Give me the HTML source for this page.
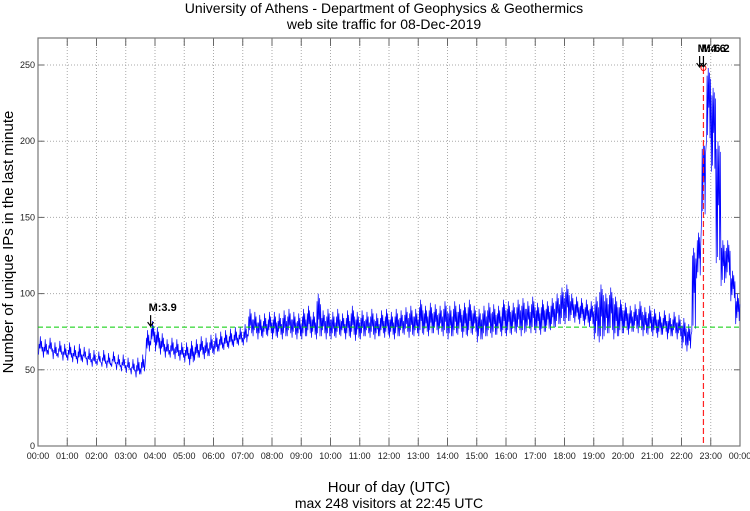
<!DOCTYPE html>
<html><head><meta charset="utf-8"><style>
body{margin:0;background:#fff;width:750px;height:511px;overflow:hidden}
svg{display:block;font-family:"Liberation Sans",sans-serif}
</style></head><body>
<svg id="chart" width="750" height="511">
<text x="384" y="13" font-size="14" text-anchor="middle">University of Athens - Department of Geophysics &amp; Geothermics</text>
<text x="384" y="29" font-size="14" text-anchor="middle">web site traffic for 08-Dec-2019</text>
<text x="389" y="492" font-size="15" text-anchor="middle">Hour of day (UTC)</text>
<text x="389" y="508" font-size="14" text-anchor="middle">max 248 visitors at 22:45 UTC</text>
<text transform="translate(13,242) rotate(-90)" font-size="15" text-anchor="middle">Number of unique IPs in the last minute</text>
<g id="grid"></g><g id="series"></g><g id="ann"></g>
</svg>
<script>
const hourLabels=["00:00","01:00","02:00","03:00","04:00","05:00","06:00","07:00","08:00","09:00","10:00","11:00","12:00","13:00","14:00","15:00","16:00","17:00","18:00","19:00","20:00","21:00","22:00","23:00","00:00"];
const yTicks=[0,50,100,150,200,250];
const binLow=[60,58,60,57,58,56, 56,55,54,55,53,52, 53,52,51,52,50,49, 48,47,45,47,60,66, 62,60,58,58,57,56, 55,53,56,58,57,59, 60,62,63,64,65,66, 66,72,72,70,71,72, 70,71,70,72,71,70, 70,72,71,70,72,70, 70,71,72,70,71,69, 70,72,71,70,72,71, 71,70,72,73,71,72, 72,73,72,74,73,72, 70,72,73,71,72,73, 68,70,72,71,73,72, 72,73,74,72,75,74, 74,73,75,76,78,80, 80,82,81,80,79,78, 70,68,72,74,70,72, 74,73,75,74,72,73, 72,71,73,70,72,70, 64,62,75,110,150,200, 180,120,105,110,95,80];
const binHigh=[72,70,71,68,69,67, 68,66,67,65,64,63, 62,63,61,62,60,60, 58,57,58,60,76,82, 78,74,70,71,70,68, 68,69,70,72,71,73, 74,75,76,77,78,78, 80,90,88,86,87,88, 88,87,89,90,88,87, 90,92,88,100,89,90, 88,90,87,89,92,88, 89,88,90,87,89,90, 88,90,89,91,92,90, 96,92,94,93,92,95, 92,95,93,94,96,92, 90,92,94,93,92,96, 95,94,96,97,95,98, 94,96,95,97,100,104, 106,100,98,97,96,95, 98,106,100,104,98,96, 94,92,93,95,91,92, 90,88,89,87,88,86, 84,80,130,140,200,248, 235,200,135,135,115,100];
const avgValue=78, peakHour=22.75, peakValue=248;
const quakes=[{h:3.85,label:"M:3.9"},{h:22.62,label:"M:4.6"},{h:22.75,label:"M:6.2"}];
const L=38,R=740,T=38,B=446,YMAX=250,YTOP=65;
const X=h=>L+h*(R-L)/24, Y=v=>B-v*(B-YTOP)/YMAX;
const NS="http://www.w3.org/2000/svg";
function mk(t,a,p){const e=document.createElementNS(NS,t);for(const k in a)e.setAttribute(k,a[k]);p.appendChild(e);return e;}
const g=document.getElementById('grid');
hourLabels.forEach((lab,i)=>{
 const x=X(i);
 if(i>0&&i<24){const l=mk('line',{x1:x,x2:x,y1:T,y2:B,stroke:'#aaa','stroke-dasharray':'1,2'},g);
 
 }
 mk('line',{x1:x,x2:x,y1:B,y2:B-8,stroke:'#666'},g);
 mk('line',{x1:x,x2:x,y1:T,y2:T+8,stroke:'#666'},g);
 const t=mk('text',{x:x,y:B+13,'font-size':9,'text-anchor':'middle',fill:'#222'},g);t.textContent=lab;
 
 
});
yTicks.forEach(v=>{
 const y=Y(v);
 if(v>0){const l=mk('line',{x1:L,x2:R,y1:y,y2:y,stroke:'#aaa','stroke-dasharray':'1,2'},g);
 
 }
 mk('line',{x1:L,x2:L+6,y1:y,y2:y,stroke:'#666'},g);
 mk('line',{x1:R,x2:R-6,y1:y,y2:y,stroke:'#666'},g);
 const t=mk('text',{x:L-3,y:y+3,'font-size':9,'text-anchor':'end',fill:'#222'},g);t.textContent=v;
 
 
});
const fr=mk('rect',{x:L,y:T,width:R-L,height:B-T,fill:'none',stroke:'#777','stroke-width':1.2},g);


const s=document.getElementById('series');
let pts=[];
binLow.forEach((lo,i)=>{
 const h0=i/6, hi=binHigh[i];
 pts.push(X(h0+0.02)+','+Y(lo),X(h0+0.04)+','+Y(hi-5),X(h0+0.06)+','+Y(lo+4),X(h0+0.08)+','+Y(hi),X(h0+0.10)+','+Y((lo+hi)/2-2),X(h0+0.12)+','+Y(hi-3),X(h0+0.14)+','+Y(lo+2),X(h0+0.16)+','+Y(hi-7));
});
const pl=mk('polyline',{points:pts.join(' '),fill:'none',stroke:'#00f','stroke-width':0.7},s);


const av=mk('line',{x1:L,x2:R,y1:Y(avgValue),y2:Y(avgValue),stroke:'#0c0','stroke-dasharray':'5,3'},s);


const pk=mk('line',{x1:X(peakHour),x2:X(peakHour),y1:Y(peakValue),y2:B,stroke:'#f22','stroke-width':1.2,'stroke-dasharray':'6,3'},s);


const pc=mk('circle',{cx:X(peakHour),cy:Y(peakValue),r:2.5,fill:'none',stroke:'#f00'},s);


const a=document.getElementById('ann');
quakes.forEach(q=>{
 const x=X(q.h), y=q.h<20?Y(78):Y(peakValue);
 const t=mk('text',{x:x-2,y:y-16,'font-size':11,'font-weight':'bold'},a);t.textContent=q.label;
 
 
 const ar=mk('path',{d:`M${x},${y-12} L${x},${y-2} M${x-3},${y-5} L${x},${y-1} L${x+3},${y-5}`,stroke:'#000','stroke-width':1.2,fill:'none'},a);
 
 
});
</script>
</body></html>
